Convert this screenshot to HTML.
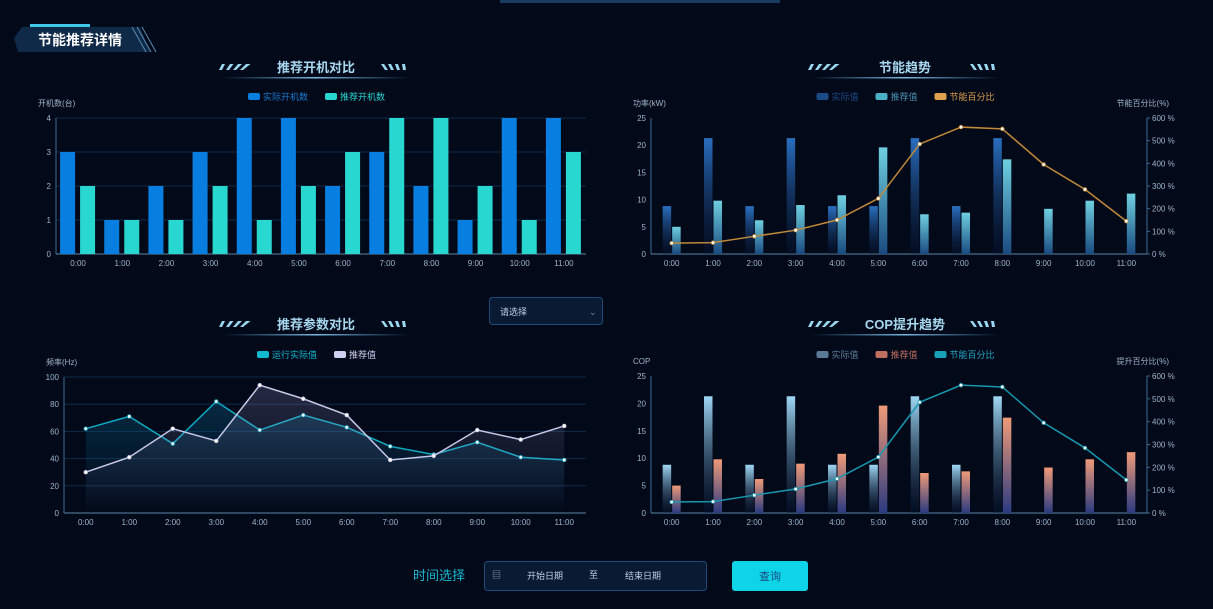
<!DOCTYPE html>
<html><head><meta charset="utf-8"><style>
body{margin:0;background:#020919;width:1213px;height:604px;overflow:hidden;font-family:"Liberation Sans","Noto Sans CJK SC",sans-serif;}
svg text{font-family:"Liberation Sans","Noto Sans CJK SC",sans-serif;}
</style></head><body>
<svg id="s" width="1213" height="604" xmlns="http://www.w3.org/2000/svg">
<defs>
<linearGradient id="gBlue" x1="0" y1="0" x2="0" y2="1"><stop offset="0" stop-color="#2a6fc0"/><stop offset="1" stop-color="#0a1a3a" stop-opacity="0.3"/></linearGradient>
<linearGradient id="gCyan" x1="0" y1="0" x2="0" y2="1"><stop offset="0" stop-color="#6fd0e0"/><stop offset="1" stop-color="#1a4a80"/></linearGradient>
<linearGradient id="gLight" x1="0" y1="0" x2="0" y2="1"><stop offset="0" stop-color="#9fd8f5"/><stop offset="1" stop-color="#0a1a3a" stop-opacity="0.3"/></linearGradient>
<linearGradient id="gOrange" x1="0" y1="0" x2="0" y2="1"><stop offset="0" stop-color="#f09a78"/><stop offset="1" stop-color="#2a3a80"/></linearGradient>
<linearGradient id="gArea1" x1="0" y1="0" x2="0" y2="1"><stop offset="0" stop-color="#0a5a80" stop-opacity="0.4"/><stop offset="1" stop-color="#0a5a80" stop-opacity="0"/></linearGradient>
<linearGradient id="gArea2" x1="0" y1="0" x2="0" y2="1"><stop offset="0" stop-color="#b0a8e0" stop-opacity="0.2"/><stop offset="1" stop-color="#b0a8e0" stop-opacity="0"/></linearGradient>
<linearGradient id="gUl" x1="0" x2="1"><stop offset="0" stop-color="#5aa0d0" stop-opacity="0"/><stop offset="0.5" stop-color="#7ab8e0"/><stop offset="1" stop-color="#5aa0d0" stop-opacity="0"/></linearGradient>
</defs>
<rect x="500" y="0" width="280" height="3" fill="#1a3a60"/>
<g>
<polygon points="22,27 140,27 150,52 18,52 14,38" fill="#0f2a48"/>
<rect x="30" y="24" width="60" height="3" fill="#3fc8e8"/>
<line x1="132" y1="27" x2="146" y2="52" stroke="#5a8ab0"/><line x1="137" y1="27" x2="151" y2="52" stroke="#5a8ab0"/><line x1="142" y1="27" x2="156" y2="52" stroke="#5a8ab0"/>
<text x="38" y="45" fill="#fff" font-size="14" font-weight="bold">节能推荐详情</text>
</g>
<g>
<rect x="489.5" y="297.5" width="113" height="27" rx="3" fill="#0a1a33" stroke="#1e4a78"/>
<text x="500" y="315" fill="#c0d0e0" font-size="9">请选择</text>
<text x="589" y="315" fill="#5a8ab0" font-size="9">⌄</text>
</g>
<g>
<text x="413" y="580" fill="#1bb8d0" font-size="13">时间选择</text>
<g>
<rect x="484.5" y="561.5" width="222" height="29" rx="3" fill="#0a1a33" stroke="#1e4a78"/>
<text x="492" y="578" fill="#8aa0b8" font-size="9">▤</text>
<text x="527" y="579" fill="#c0d0e0" font-size="9">开始日期</text>
<text x="589" y="578" fill="#c0d0e0" font-size="9">至</text>
<text x="625" y="579" fill="#c0d0e0" font-size="9">结束日期</text>
</g>
<g>
<rect x="732" y="561" width="76" height="30" rx="3" fill="#0dd4e8"/>
<text x="770" y="580" fill="#1a4a80" font-size="11" text-anchor="middle">查询</text>
</g>
</g>
<g id="c1"></g>
<g id="c2"></g>
<g id="c3"></g>
<g id="c4"></g>
</svg>
<script>
const hours = ["0:00","1:00","2:00","3:00","4:00","5:00","6:00","7:00","8:00","9:00","10:00","11:00"];
const c1Actual = [3,1,2,3,4,4,2,3,2,1,4,4];
const c1Recommended = [2,1,1,2,1,2,3,4,4,2,1,3];
const c1Ticks = [0,1,2,3,4];
const c2Actual = [8.8,21.3,8.8,21.3,8.8,8.8,21.3,8.8,21.3,0,0,0];
const c2Recommended = [5,9.8,6.2,9,10.8,19.6,7.3,7.6,17.4,8.3,9.8,11.1];
const c2Percent = [48,50,78,105,150,245,485,560,552,395,285,145];
const leftTicks25 = [0,5,10,15,20,25];
const pctTicks = [0,100,200,300,400,500,600];
const c3Actual = [62,71,51,82,61,72,63,49,43,52,41,39];
const c3Recommended = [30,41,62,53,94,84,72,39,42,61,54,64];
const c3Ticks = [0,20,40,60,80,100];
const c4Actual = [8.8,21.3,8.8,21.3,8.8,8.8,21.3,8.8,21.3,0,0,0];
const c4Recommended = [5,9.8,6.2,9,10.8,19.6,7.3,7.6,17.4,8.3,9.8,11.1];
const c4Percent = [48,50,78,105,150,245,485,560,552,395,285,145];

const NS="http://www.w3.org/2000/svg";
function mk(p,tag,a,txt){const e=document.createElementNS(NS,tag);for(const k in a)e.setAttribute(k,a[k]);if(txt!==undefined)e.textContent=txt;p.appendChild(e);return e;}

function title(g,cx,y,t){
  const h=mk(g,'g',{});
  
  
  mk(h,'text',{x:cx,y:y+5,fill:'#a8d8f0','font-size':13,'font-weight':'bold','text-anchor':'middle'},t);
  for(let i=0;i<4;i++){mk(h,'polygon',{points:`${cx-97+i*7},${y+3} ${cx-94+i*7+i},${y-3} ${cx-91+i*7+i*1.5},${y-3} ${cx-94+i*7},${y+3}`,fill:'#9ad8f0'});
    mk(h,'polygon',{points:`${cx+65+i*7},${y-3} ${cx+68+i*7},${y-3} ${cx+72+i*7-i},${y+3} ${cx+69+i*7-i},${y+3}`,fill:'#9ad8f0'});}
  mk(h,'rect',{x:cx-95,y:y+10,width:190,height:1.5,fill:'url(#gUl)'});
}
function legend(g,items,cx,y){
  let total=items.reduce((s,it)=>s+14+it.t.length*9+18,0)-18;
  let x=cx-total/2;
  items.forEach(it=>{
    const l=mk(g,'g',{});
    
    
    mk(l,'rect',{x:x,y:y-4,width:12,height:7,rx:2,fill:it.c});
    mk(l,'text',{x:x+15,y:y+3,fill:it.tc||it.c,'font-size':9},it.t);
    x+=14+it.t.length*9+18;
  });
}
function axes(g,L,R,T,B,ticks,max,ltitle,rticks,rmax,rtitle,grid){
  const ys=v=>B-(v/max)*(B-T);
  ticks.forEach(t=>{
    if(grid&&t>0){const gl=mk(g,'line',{x1:L,x2:R,y1:ys(t),y2:ys(t),stroke:'#0f2a4a'});}
    const tl=mk(g,'text',{x:L-5,y:ys(t)+3,fill:'#a0b4c8','font-size':8,'text-anchor':'end'},t);
    
  });
  mk(g,'line',{x1:L,x2:L,y1:T,y2:B,stroke:'#3a6a90'});
  mk(g,'line',{x1:L,x2:R,y1:B,y2:B,stroke:'#5a86a8'});
  const yt=mk(g,'text',{x:L-18,y:T-12,fill:'#a0b4c8','font-size':8},ltitle);
  
  const cw=(R-L)/hours.length;
  hours.forEach((h,i)=>{const t=mk(g,'text',{x:L+cw*(i+0.5),y:B+12,fill:'#a0b4c8','font-size':8,'text-anchor':'middle'},h);
    });
  if(rticks){
    mk(g,'line',{x1:R,x2:R,y1:T,y2:B,stroke:'#3a6a90'});
    rticks.forEach(t=>{const y=B-(t/rmax)*(B-T);mk(g,'line',{x1:R,x2:R+3,y1:y,y2:y,stroke:'#3a6a90'});
      const tl=mk(g,'text',{x:R+5,y:y+3,fill:'#a0b4c8','font-size':8},t+' %');
      });
    const rt=mk(g,'text',{x:R+22,y:T-12,fill:'#a0b4c8','font-size':8,'text-anchor':'end'},rtitle);
    
  }
  return {ys,cw,xc:i=>L+cw*(i+0.5)};
}
function line(g,vals,xc,ys,color,name,area,B){
  const pts=vals.map((v,i)=>[xc(i),ys(v)]);
  if(area){const a=mk(g,'polygon',{points:pts.map(p=>p.join(',')).join(' ')+` ${pts[pts.length-1][0]},${B} ${pts[0][0]},${B}`,fill:area});
    }
  const p=mk(g,'polyline',{points:pts.map(p=>p.join(',')).join(' '),fill:'none',stroke:color,'stroke-width':1.5});
  
  pts.forEach(q=>{const c=mk(g,'circle',{cx:q[0],cy:q[1],r:1.8,fill:'#fff',stroke:color,'stroke-width':0.8});
    });
}

// Chart 1
(function(){const g=document.getElementById('c1');
title(g,316,67,'推荐开机对比');
legend(g,[{t:'实际开机数',c:'#087fe0',tc:'#1a7ad0'},{t:'推荐开机数',c:'#28d8d0'}],316,97);
const L=56,R=586,T=118,B=254;const ax=axes(g,L,R,T,B,c1Ticks,4,'开机数(台)',null,0,'',true);
c1Actual.forEach((v,i)=>{const r=mk(g,'rect',{x:ax.xc(i)-18,y:ax.ys(v),width:15,height:B-ax.ys(v),fill:'#087fe0'});});
c1Recommended.forEach((v,i)=>{const r=mk(g,'rect',{x:ax.xc(i)+2,y:ax.ys(v),width:15,height:B-ax.ys(v),fill:'#28d8d0'});});
})();
// Chart 2
(function(){const g=document.getElementById('c2');
title(g,905,67,'节能趋势');
legend(g,[{t:'实际值',c:'#1a4a88'},{t:'推荐值',c:'#4ab0c8',tc:'#4a90b0'},{t:'节能百分比',c:'#e0a050'}],905,97);
const L=651,R=1147,T=118,B=254;const ax=axes(g,L,R,T,B,leftTicks25,25,'功率(kW)',pctTicks,600,'节能百分比(%)',false);
c2Actual.forEach((v,i)=>{if(!v)return;const r=mk(g,'rect',{x:ax.xc(i)-9,y:ax.ys(v),width:8.5,height:B-ax.ys(v),fill:'url(#gBlue)'});});
c2Recommended.forEach((v,i)=>{const r=mk(g,'rect',{x:ax.xc(i)+0.5,y:ax.ys(v),width:8.5,height:B-ax.ys(v),fill:'url(#gCyan)'});});
line(g,c2Percent,ax.xc,v=>B-(v/600)*(B-T),'#c08a3a','percent');
})();
// Chart 3
(function(){const g=document.getElementById('c3');
title(g,316,324,'推荐参数对比');
legend(g,[{t:'运行实际值',c:'#10b8d0'},{t:'推荐值',c:'#d0d0f0'}],316,355);
const L=64,R=586,T=377,B=513;const ax=axes(g,L,R,T,B,c3Ticks,100,'频率(Hz)',null,0,'',true);
line(g,c3Actual,ax.xc,ax.ys,'#10a8c0','actual','url(#gArea1)',B);
line(g,c3Recommended,ax.xc,ax.ys,'#c8c8e8','recommended','url(#gArea2)',B);
})();
// Chart 4
(function(){const g=document.getElementById('c4');
title(g,905,324,'COP提升趋势');
legend(g,[{t:'实际值',c:'#5a7a98'},{t:'推荐值',c:'#c07060'},{t:'节能百分比',c:'#18a0b8',tc:'#28a8c8'}],905,355);
const L=651,R=1147,T=376,B=513;const ax=axes(g,L,R,T,B,leftTicks25,25,'COP',pctTicks,600,'提升百分比(%)',false);
c4Actual.forEach((v,i)=>{if(!v)return;const r=mk(g,'rect',{x:ax.xc(i)-9,y:ax.ys(v),width:8.5,height:B-ax.ys(v),fill:'url(#gLight)'});});
c4Recommended.forEach((v,i)=>{const r=mk(g,'rect',{x:ax.xc(i)+0.5,y:ax.ys(v),width:8.5,height:B-ax.ys(v),fill:'url(#gOrange)'});});
line(g,c4Percent,ax.xc,v=>B-(v/600)*(B-T),'#1898b0','percent');
})();
</script>
</body></html>
